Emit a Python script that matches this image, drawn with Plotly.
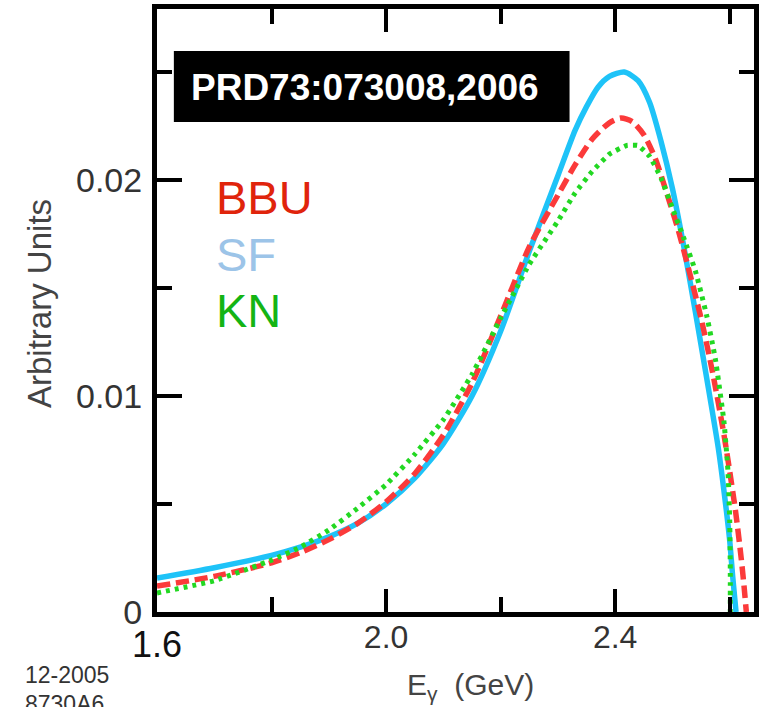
import plotly.graph_objects as go

# ---------------- data ----------------
sf_e = [1.60, 1.70, 1.80, 1.85, 1.90, 1.95, 2.00, 2.05, 2.10, 2.15, 2.20, 2.25, 2.30,
        2.33, 2.35, 2.37, 2.39, 2.416, 2.44, 2.46, 2.48, 2.50, 2.52, 2.54, 2.56, 2.58,
        2.59, 2.60, 2.605, 2.611]
sf_y = [0.00157, 0.00205, 0.00262, 0.00300, 0.00348, 0.00410, 0.00500, 0.00620, 0.00780,
        0.01000, 0.01300, 0.01670, 0.02020, 0.02230, 0.02340, 0.02430, 0.02480, 0.02500,
        0.02460, 0.02360, 0.02180, 0.01960, 0.01690, 0.01390, 0.01080, 0.00760, 0.00560,
        0.00330, 0.00170, 0.00000]

bbu_e = [1.60, 1.70, 1.80, 1.85, 1.90, 1.95, 2.00, 2.05, 2.10, 2.15, 2.20, 2.25, 2.30,
         2.33, 2.36, 2.39, 2.41, 2.43, 2.45, 2.47, 2.49, 2.51, 2.53, 2.55, 2.57, 2.59,
         2.61, 2.62, 2.625, 2.629]
bbu_y = [0.00120, 0.00165, 0.00228, 0.00275, 0.00335, 0.00410, 0.00510, 0.00640, 0.00820,
         0.01060, 0.01370, 0.01690, 0.01930, 0.02070, 0.02190, 0.02265, 0.02287, 0.02270,
         0.02210, 0.02100, 0.01940, 0.01770, 0.01570, 0.01360, 0.01110, 0.00820, 0.00470,
         0.00250, 0.00120, 0.00000]

kn_e = [1.60, 1.70, 1.80, 1.85, 1.90, 1.95, 2.00, 2.05, 2.10, 2.15, 2.20, 2.25, 2.30,
        2.33, 2.36, 2.39, 2.42, 2.44, 2.46, 2.48, 2.50, 2.52, 2.54, 2.56, 2.575, 2.59,
        2.597, 2.600, 2.601, 2.601]
kn_y = [0.00088, 0.00145, 0.00240, 0.00300, 0.00380, 0.00480, 0.00590, 0.00730, 0.00890,
        0.01100, 0.01360, 0.01610, 0.01810, 0.01940, 0.02040, 0.02120, 0.02160, 0.02160,
        0.02110, 0.02010, 0.01870, 0.01730, 0.01580, 0.01370, 0.01170, 0.00880, 0.00650,
        0.00420, 0.00200, 0.00000]

x_tick_vals = [2.0, 2.4]
x_tick_text = ["2.0", "2.4"]
x_minor_vals = [1.8, 2.2, 2.6]
y_tick_vals = [0.0, 0.01, 0.02]
y_tick_text = ["0", "0.01", "0.02"]
y_minor_vals = [0.005, 0.015, 0.025]

legend_labels = ["BBU", "SF", "KN"]
legend_colors = ["#e0240c", "#9cc4e8", "#14b414"]

X_RANGE = [1.6, 2.6424]
Y_RANGE = [0.0, 0.02792]

FONT = "Liberation Sans, Arial, Helvetica, sans-serif"

fig = go.Figure()
fig.add_trace(go.Scatter(x=sf_e, y=sf_y, mode="lines", name="SF",
                         line=dict(color="#1ec3f8", width=5.5, shape="spline", smoothing=0.7)))
fig.add_trace(go.Scatter(x=bbu_e, y=bbu_y, mode="lines", name="BBU",
                         line=dict(color="#fb3a3a", width=5.5, dash="13px,6px",
                                   shape="spline", smoothing=0.7)))
fig.add_trace(go.Scatter(x=kn_e, y=kn_y, mode="lines", name="KN",
                         line=dict(color="#22d822", width=5, dash="4px,5px",
                                   shape="spline", smoothing=0.4)))

fig.update_layout(
    width=759, height=707, autosize=False,
    margin=dict(l=157, r=0, t=9, b=95, pad=0),
    paper_bgcolor="white", plot_bgcolor="white",
    showlegend=False,
    font=dict(family=FONT),
    xaxis=dict(range=X_RANGE, showgrid=False, zeroline=False,
               showline=True, linecolor="black", linewidth=5, mirror="ticks",
               ticks="inside", ticklen=23, tickwidth=4, tickcolor="black",
               tickmode="array", tickvals=x_tick_vals, ticktext=x_tick_text,
               tickfont=dict(family=FONT, size=32, color="#333333"),
               ticklabelstandoff=-7,
               minor=dict(tickmode="array", tickvals=x_minor_vals, ticks="inside",
                          ticklen=15, tickwidth=4, tickcolor="black", showgrid=False)),
    yaxis=dict(range=Y_RANGE, showgrid=False, zeroline=False,
               showline=True, linecolor="black", linewidth=5, mirror="ticks",
               ticks="inside", ticklen=25, tickwidth=4, tickcolor="black",
               tickmode="array", tickvals=y_tick_vals, ticktext=y_tick_text,
               tickfont=dict(family=FONT, size=34, color="#333333"),
               ticklabelstandoff=3,
               minor=dict(tickmode="array", tickvals=y_minor_vals, ticks="inside",
                          ticklen=15, tickwidth=4, tickcolor="black", showgrid=False)),
)

# pixel -> paper helpers (plot area: x 157..759, y 9..612)
def px(x):
    return (x - 157) / 602.0

def py(y):
    return (612 - y) / 603.0

# black reference box
fig.add_shape(type="rect", xref="paper", yref="paper",
              x0=px(174), x1=px(573), y0=py(122), y1=py(51),
              fillcolor="black", line=dict(width=0), layer="above")
fig.add_annotation(xref="paper", yref="paper", x=px(367), y=py(88),
                   text="<b>PRD73:073008,2006</b>", showarrow=False,
                   xanchor="center", yanchor="middle",
                   font=dict(family=FONT, size=37, color="white"))

# legend labels
for lab, col, yc in zip(legend_labels, legend_colors, [197, 254, 311]):
    fig.add_annotation(xref="paper", yref="paper", x=px(214), y=py(yc),
                       text=lab, showarrow=False, xanchor="left", yanchor="middle",
                       font=dict(family=FONT, size=47, color=col))

# "1.6" tick label (bigger, black in the reference)
fig.add_annotation(xref="x", yref="paper", x=1.6, y=py(644),
                   text="1.6", showarrow=False, xanchor="center", yanchor="middle",
                   font=dict(family=FONT, size=36, color="#111111"))

# axis titles
fig.add_annotation(xref="paper", yref="paper", x=px(38), y=py(303),
                   text="Arbitrary Units", showarrow=False, textangle=-90,
                   xanchor="center", yanchor="middle",
                   font=dict(family=FONT, size=33, color="#444444"))
fig.add_annotation(xref="paper", yref="paper", x=px(473), y=py(686),
                   text="E<sub>γ</sub>  (GeV)", showarrow=False,
                   xanchor="center", yanchor="middle",
                   font=dict(family=FONT, size=30, color="#444444"))

# bottom-left labels
fig.add_annotation(xref="paper", yref="paper", x=px(22), y=py(675),
                   text="12-2005", showarrow=False, xanchor="left", yanchor="middle",
                   font=dict(family=FONT, size=23, color="#333333"))
fig.add_annotation(xref="paper", yref="paper", x=px(22), y=py(704),
                   text="8730A6", showarrow=False, xanchor="left", yanchor="middle",
                   font=dict(family=FONT, size=23, color="#333333"))

fig.write_html("out.html")
